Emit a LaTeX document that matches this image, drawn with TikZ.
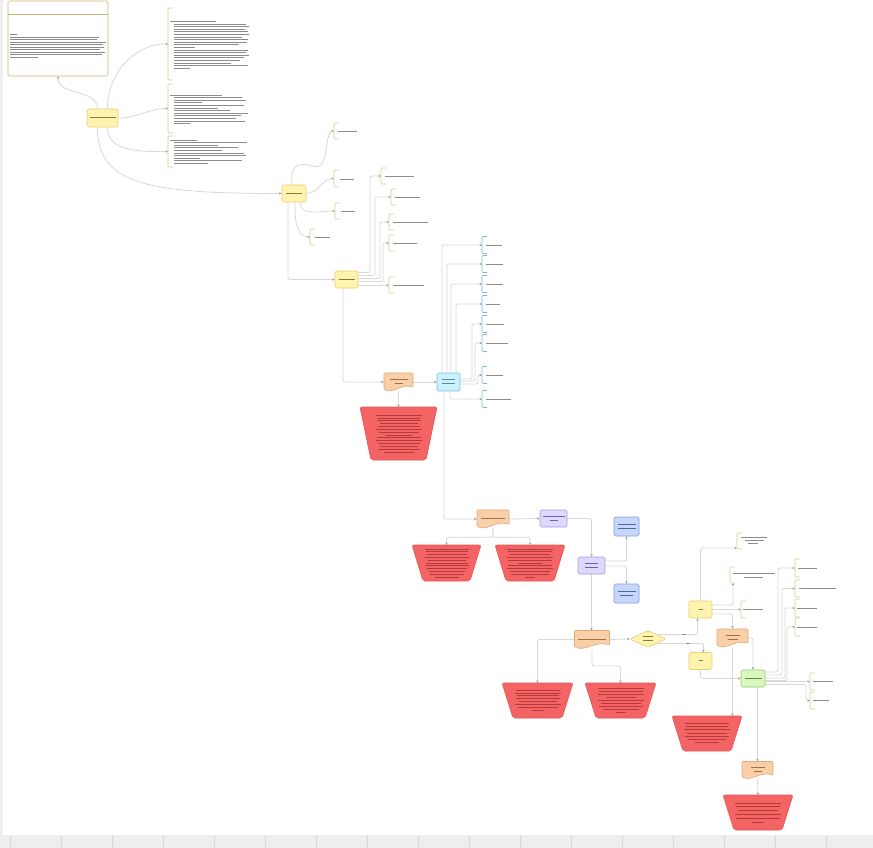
\documentclass[tikz,border=0pt]{standalone}
\usepackage{tikz}
\usetikzlibrary{arrows.meta,shapes.geometric,calc}

\definecolor{yfill}{HTML}{FFF3B0}
\definecolor{yline}{HTML}{E6CF72}
\definecolor{ytext}{HTML}{8A7A3A}
\definecolor{nline}{HTML}{CDB57A}
\definecolor{tanc}{HTML}{DCC88F}
\definecolor{tealc}{HTML}{7DB8CF}
\definecolor{dfill}{HTML}{F8CFA6}
\definecolor{dline}{HTML}{E2A878}
\definecolor{dtext}{HTML}{A36F45}
\definecolor{tfill}{HTML}{F46464}
\definecolor{tline}{HTML}{E65555}
\definecolor{tbarc}{HTML}{B53A3A}
\definecolor{cfill}{HTML}{CBF1FC}
\definecolor{cline}{HTML}{76C6DE}
\definecolor{ctext}{HTML}{4F8EA6}
\definecolor{pfill}{HTML}{DCD8FE}
\definecolor{pline}{HTML}{A39BE8}
\definecolor{ptext}{HTML}{6A62B5}
\definecolor{bfill}{HTML}{C9D6FC}
\definecolor{bline}{HTML}{8298E0}
\definecolor{btext}{HTML}{5266B0}
\definecolor{gfill}{HTML}{DAF7C0}
\definecolor{gline}{HTML}{94CC66}
\definecolor{gtext}{HTML}{5E8E3E}
\definecolor{lline}{HTML}{D8D8D8}
\definecolor{arrc}{HTML}{9A9A9A}
\definecolor{barc}{HTML}{8C8C8C}
\definecolor{bgc}{HTML}{EEEEEE}
\definecolor{sepc}{HTML}{D8D8D8}

\pgfdeclarelayer{bg}
\pgfdeclarelayer{edges}
\pgfsetlayers{bg,edges,main}

\newcommand\txtbar[1]{\rule[0.9pt]{#1pt}{0.7pt}}
\newcommand\bars[4]{\foreach \e [count=\i] in {#4} \draw[bar] (#1,{#2+(\i-1)*#3}) -- (\e,{#2+(\i-1)*#3});}
\newcommand\brk[5]{%
	\draw[draw=#5,line width=0.6pt,rounded corners=1pt] ({#2+5},#3) -- (#2,#3) -- (#2,#4) -- ({#2+5},#4);
	\coordinate (#1) at (#2,{(#3+#4)/2});}
\newcommand\docnode[6]{%
	\filldraw[fill=dfill,draw=dline,line width=0.6pt,rounded corners=1pt]
		({#2-#4/2},{#3-#5/2}) -- ({#2+#4/2},{#3-#5/2}) -- ({#2+#4/2},{#3+0.3*#5})
		.. controls ({#2+0.1*#4},{#3+0.05*#5}) and ({#2-0.2*#4},{#3+0.7*#5}) .. ({#2-#4/2},{#3+0.4*#5}) -- cycle;
	\node[nbox,text=dtext,minimum width=#4,minimum height=#5] (#1) at (#2,#3) {#6};}
\newcommand\trapnode[8]{%
	\filldraw[fill=tfill,draw=tline,line width=0.6pt,rounded corners=2pt]
		({#2-#4/2},#3) -- ({#2+#4/2},#3) -- ({#2+#4/2-11},{#3+#5}) -- ({#2-#4/2+11},{#3+#5}) -- cycle;
	\coordinate (#1) at (#2,#3);
	\foreach \w [count=\i] in {#8} \draw[draw=tbarc,line width=0.7pt] ({#2-\w/2},{#3+#6+(\i-1)*#7}) -- ++(\w,0);}

\begin{document}
\begin{tikzpicture}[x=1pt,y=-1pt,
	nbox/.style={rounded corners=1.5pt,line width=0.6pt,inner sep=0pt,font=\fontsize{3}{3.6}\selectfont,align=center},
	ybox/.style={nbox,fill=yfill,draw=yline,text=ytext},
	cbox/.style={nbox,fill=cfill,draw=cline,text=ctext},
	pbox/.style={nbox,fill=pfill,draw=pline,text=ptext},
	blubox/.style={nbox,fill=bfill,draw=bline,text=btext},
	gbox/.style={nbox,fill=gfill,draw=gline,text=gtext},
	conn/.style={draw=lline,line width=0.8pt,rounded corners=2pt,-{Stealth[length=2.6pt,width=2.4pt,color=arrc]}},
	bar/.style={draw=barc,line width=0.7pt},
	lbl/.style={fill=white,inner sep=0.6pt,font=\fontsize{3}{3.6}\selectfont,text=barc}]
	\useasboundingbox (0,0) rectangle (873,848);
	\begin{pgfonlayer}{bg}
		\fill[bgc] (0,0) rectangle (873,848);
		\fill[white] (3,0) rectangle (873,835);
		\foreach \x in {10,61,...,873} \draw[sepc,line width=0.8pt] (\x,835) -- (\x,848);
	\end{pgfonlayer}
	
	\node[nbox,draw=nline,fill=white,minimum width=100,minimum height=75] (note) at (58,38.5) {};
	\draw[nline,line width=0.6pt] ([yshift=-14]note.north west) -- ([yshift=-14]note.north east);
	\draw[bar] (10,34) -- (17,34);
	\bars{10}{37}{2.5}{99,97,106,103,104,100,105,102,38}
	
	\brk{br1}{168}{8}{80}{tanc}
	\draw[bar] (170,21) -- (216,21);
	\bars{174}{24}{2.6}{246,249,245,248,249,242,248,247,239,195,248,246,249,244,240,231,248,190}
	\brk{br2}{168}{84}{133}{tanc}
	\draw[bar] (170,95) -- (222,95);
	\bars{174}{97.6}{2.6}{242,246,202,244,218,230,248,241,236,245,190}
	\brk{br3}{168}{136}{167}{tanc}
	\draw[bar] (170,140) -- (197,140);
	\bars{174}{142.6}{2.6}{247,218,238,222,244,246,200,242,208}
	
	\node[ybox,minimum width=31,minimum height=18] (a) at (102.5,118) {\txtbar{26}};
	\node[ybox,minimum width=24,minimum height=17] (b) at (294,193.5) {\txtbar{16}};
	\node[ybox,minimum width=23,minimum height=17] (c) at (346.5,279.5) {\txtbar{16}};
	
	\brk{b1}{334}{123}{139}{tanc} \draw[bar] (338,131) -- (357,131);
	\brk{b2}{334}{170}{187}{tanc} \draw[bar] (340,179) -- (354,179);
	\brk{b3}{335}{203}{219}{tanc} \draw[bar] (341,211) -- (355,211);
	\brk{b4}{310}{229}{245}{tanc} \draw[bar] (315,237) -- (330,237);
	
	\brk{c1}{381}{168}{184}{tanc} \draw[bar] (385,176) -- (414,176);
	\brk{c2}{391}{189}{205}{tanc} \draw[bar] (395,197) -- (420,197);
	\brk{c3}{389}{214}{230}{tanc} \draw[bar] (393,222) -- (428,222);
	\brk{c4}{389}{235}{251}{tanc} \draw[bar] (393,243) -- (417,243);
	\brk{c5}{389}{277}{293}{tanc} \draw[bar] (393,285) -- (424,285);
	
	\docnode{d}{398.5}{382}{29}{18}{\txtbar{18}\\\txtbar{8}}
	\node[cbox,minimum width=23,minimum height=18] (e) at (448.5,382) {\txtbar{13}\\\txtbar{13}};
	\trapnode{t1}{398.5}{407}{77}{53}{8}{2.85}{46,42,44,38,42,46,40,26,44,46,42,38,42,30}
	
	\foreach \n/\y/\l in {e1/245/502,e2/264/503,e3/284/503,e4/304/500,e5/324/504,e6/343/508,e7/375/503,e8/399/511}{
		\brk{\n}{482}{\y-8.5}{\y+8.5}{tealc}
		\draw[bar] (486,\y) -- (\l,\y);}
	
	\docnode{f}{493}{519}{32}{18}{\txtbar{24}}
	\trapnode{t2}{446.5}{545}{69}{36}{4}{2.8}{44,42,40,44,38,42,44,40,36,34,24}
	\trapnode{t3}{530}{545}{70}{36}{4}{2.8}{46,44,40,46,44,24,44,46,40,38,10}
	\node[pbox,minimum width=27,minimum height=17] (g) at (553.5,518.5) {\txtbar{22}\\\txtbar{8}};
	\node[pbox,minimum width=27,minimum height=17] (h) at (591.5,565.5) {\txtbar{13}\\\txtbar{13}};
	\node[blubox,minimum width=25,minimum height=19] (i) at (626.5,526.5) {\txtbar{18}\\\txtbar{18}};
	\node[blubox,minimum width=25,minimum height=19] (j) at (626.5,593.5) {\txtbar{18}\\\txtbar{13}};
	
	\docnode{k}{592}{639.5}{35}{18}{\txtbar{28}}
	\trapnode{t4}{537.5}{683}{71}{35}{7}{2.86}{44,46,42,44,38,46,40,12}
	\trapnode{t5}{620.5}{683}{71}{35}{5}{3.1}{46,44,46,30,46,40,44,36,10}
	\node[ybox,diamond,minimum width=36,minimum height=17] (l) at (648,639) {\txtbar{10}\\\txtbar{10}};
	\node[ybox,minimum width=23,minimum height=17] (m) at (700.5,609.5) {\txtbar{4}};
	\node[ybox,minimum width=23,minimum height=17] (n) at (700.5,661) {\txtbar{4}};
	
	\brk{m1}{737}{533}{549}{tanc}
	\draw[bar] (741,537) -- (767,537); \draw[bar] (745,540) -- (764,540); \draw[bar] (748,543) -- (758,543);
	\brk{m2}{730}{567}{583}{tanc}
	\draw[bar] (733,573) -- (775,573); \draw[bar] (744,577) -- (763,577);
	\brk{m3}{741}{601}{618}{tanc} \draw[bar] (743,609.5) -- (763,609.5);
	
	\docnode{o}{732.5}{638}{31}{18}{\txtbar{14}\\\txtbar{10}}
	\trapnode{t6}{707}{716}{70}{35}{7}{3.3}{44,42,46,40,44,38,24}
	\node[gbox,minimum width=24,minimum height=17] (p) at (753,678.5) {\txtbar{17}};
	
	\brk{p1}{795}{559}{577}{tanc} \draw[bar] (798,568) -- (817,568);
	\brk{p2}{795}{580}{597}{tanc} \draw[bar] (799,588.5) -- (836,588.5);
	\brk{p3}{795}{599}{617}{tanc} \draw[bar] (797,608) -- (817,608);
	\brk{p4}{795}{618}{636}{tanc} \draw[bar] (797,627) -- (817,627);
	\brk{p5}{810}{673}{690}{tanc} \draw[bar] (813,681.5) -- (833,681.5);
	\brk{p6}{810}{692}{709}{tanc} \draw[bar] (813,700.5) -- (829,700.5);
	
	\docnode{q}{757.5}{770}{31}{17}{\txtbar{14}\\\txtbar{8}}
	\trapnode{t8}{758}{795}{70}{35}{8}{3.8}{46,44,40,46,44,12}
	
	\begin{pgfonlayer}{edges}
		\draw[conn] ([xshift=-5]a.north) to[out=90,in=-90] (note.south);
		\draw[conn] ([xshift=5]a.north) to[out=90,in=180] (br1);
		\draw[conn] (a.east) to[out=0,in=180] (br2);
		\draw[conn] ([xshift=5]a.south) to[out=-90,in=180] (br3);
		\draw[conn] ([xshift=-5]a.south) .. controls (97,185) and (150,193.5) .. (b.west);
		
		\draw[conn] ([xshift=-2]b.north) .. controls (290,166) and (298,162) .. (312,166) .. controls (330,171) and (324,131) .. (b1);
		\draw[conn] (b.east) to[out=0,in=180] (b2);
		\draw[conn] ([xshift=6]b.south) to[out=-90,in=180] (b3);
		\draw[conn] ([xshift=1]b.south) to[out=-90,in=180] (b4);
		\draw[conn] ([xshift=-6]b.south) |- (c.west);
		
		\draw[conn] ([yshift=7]c.east) -| ([xshift=-11]c1) -- (c1);
		\draw[conn] ([yshift=4]c.east) -| ([xshift=-16]c2) -- (c2);
		\draw[conn] ([yshift=1]c.east) -| ([xshift=-9]c3) -- (c3);
		\draw[conn] ([yshift=-2]c.east) -| ([xshift=-6]c4) -- (c4);
		\draw[conn] (c.east |- c5) -- (c5);
		\draw[conn] ([xshift=-3.5]c.south) |- (d.west);
		
		\draw[conn] (d.east) -- (e.west);
		\draw[conn] (d.south) -- (t1);
		\draw[conn] ([xshift=-6.5]e.north) |- (e1);
		\draw[conn] ([xshift=-1.5]e.north) |- (e2);
		\draw[conn] ([xshift=2.5]e.north) |- (e3);
		\draw[conn] ([xshift=7.5]e.north) |- (e4);
		\draw[conn] ([yshift=3]e.east) -| ([xshift=-10]e5) -- (e5);
		\draw[conn] ([yshift=1]e.east) -| ([xshift=-7]e6) -- (e6);
		\draw[conn] ([yshift=-2]e.east) -| ([xshift=-4]e7) -- (e7);
		\draw[conn] ([xshift=1.5]e.south) |- (e8);
		\draw[conn] ([xshift=-4.5]e.south) |- (f.west);
		
		\draw[conn] (f.east) -- (g.west);
		\draw[conn] (f.south) -- ++(0,9) -| (t2);
		\draw[conn] (f.south) -- ++(0,9) -| (t3);
		\draw[conn] (g.east) -| (h.north);
		\draw[conn] ([yshift=4.5]h.east) -| (i.south);
		\draw[conn] ([yshift=-0.5]h.east) -| (j.north);
		\draw[conn] (h.south) -- (h.south |- k.north);
		
		\draw[conn] (k.east) -- (l.west);
		\draw[conn] (k.west) -| (t4);
		\draw[conn] (k.south) |- ([yshift=17]t5) -- (t5);
		\draw[conn] (l.north east) -| node[lbl,pos=0.33]{\txtbar{4}} ([xshift=-3]m.south);
		\draw[conn] (l.south east) -| node[lbl,pos=0.33]{\txtbar{4}} ([xshift=3]n.north);
		
		\draw[conn] (m.north) |- ([yshift=-7]m1);
		\draw[conn] ([yshift=4.5]m.east) -| ([xshift=3,yshift=-8]m2);
		\draw[conn] (m.east) -- (m3);
		\draw[conn] ([yshift=-4.5]m.east) -| (o.north);
		\draw[conn] (o.east) -| (p.north);
		\draw[conn] (o.south) -- (o.south |- t6);
		\draw[conn] (n.south) |- (p.west);
		
		\draw[conn] ([yshift=6.5]p.east) -| ([xshift=-17]p1) -- (p1);
		\draw[conn] ([yshift=3.5]p.east) -| ([xshift=-13]p2) -- (p2);
		\draw[conn] ([yshift=0.5]p.east) -| ([xshift=-10]p3) -- (p3);
		\draw[conn] ([yshift=-2]p.east) -| ([xshift=-8]p4) -- (p4);
		\draw[conn] (p.east |- p5) -- (p5);
		\draw[conn] ([yshift=-6]p.east) -| ([xshift=-4]p6) -- (p6);
		\draw[conn] (p.south -| q.north) -- (q.north);
		\draw[conn] (q.south) -- (t8);
	\end{pgfonlayer}
\end{tikzpicture}
\end{document}
